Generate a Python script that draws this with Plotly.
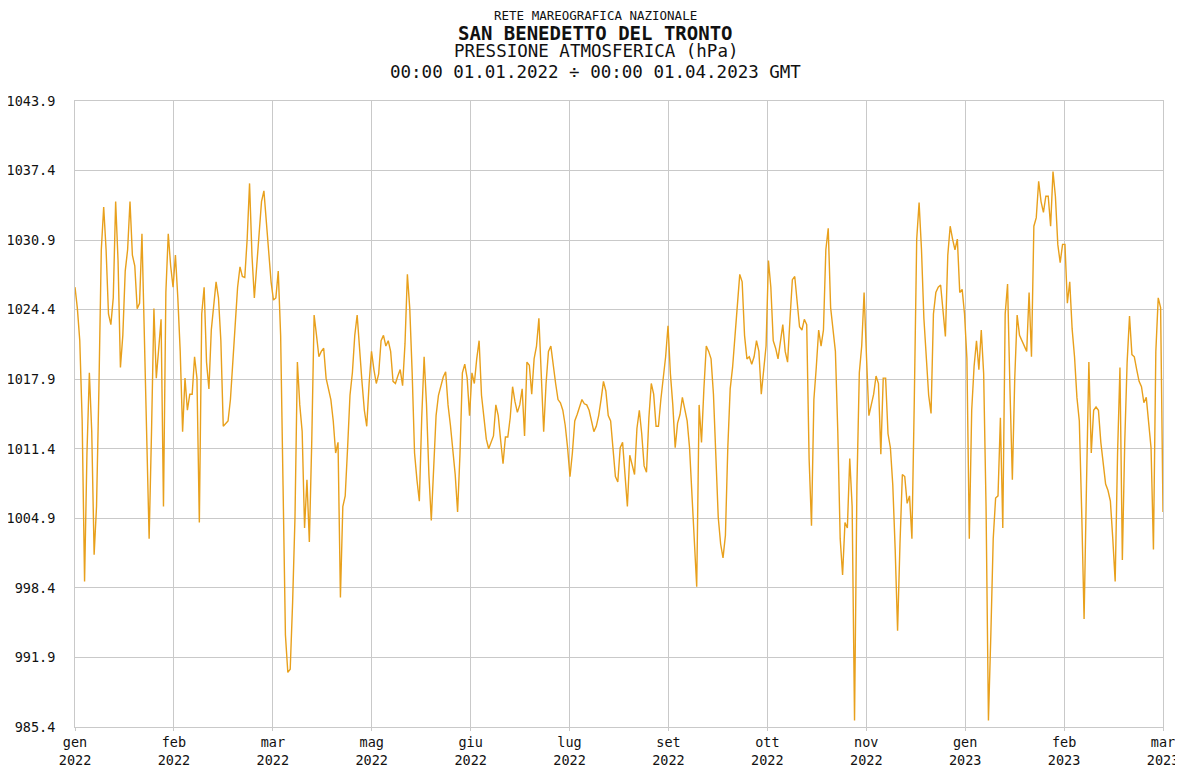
import pandas as pd
import plotly.graph_objects as go

# daily readings (hPa)
jan_2022 = [1026.5, 1024.5, 1021.5, 1014, 999, 1011, 1018.5, 1013, 1001.5, 1006,
            1017, 1030, 1034, 1030, 1024, 1023, 1025.5, 1034.5, 1029, 1019,
            1022, 1028, 1030, 1034.5, 1029.5, 1028.5, 1024.5, 1025, 1031.5, 1022, 1014]
feb_2022 = [1003, 1013, 1024.5, 1018, 1021, 1023.5, 1006, 1026, 1031.5, 1028.5,
            1026.5, 1029.5, 1025.5, 1020.5, 1013, 1018, 1015, 1016.5, 1016.5, 1020,
            1018, 1004.5, 1024, 1026.5, 1019.5, 1017, 1022.5, 1025]
mar_2022 = [1027, 1025.5, 1021.5, 1013.5, 1013.8, 1014, 1016, 1020, 1023, 1026.5,
            1028.4, 1027.5, 1027.4, 1031, 1036.2, 1029.5, 1025.5, 1028.5, 1032, 1034.5,
            1035.5, 1032.5, 1029.5, 1027, 1025.3, 1025.5, 1028, 1022, 1008, 994, 990.5]
apr_2022 = [990.8, 997, 1005, 1019.5, 1015.5, 1013, 1004, 1008.5, 1002.7, 1012,
            1023.9, 1022, 1020, 1020.5, 1020.8, 1018, 1017, 1016, 1014, 1011,
            1012, 997.5, 1006, 1007, 1011.5, 1016.4, 1018.5, 1022, 1023.9, 1020.5]
may_2022 = [1017.7, 1015, 1013.5, 1017.5, 1020.5, 1018.8, 1017.5, 1018.4, 1021.5, 1022,
            1021, 1021.5, 1020.5, 1017.7, 1017.5, 1018.2, 1018.8, 1017.3, 1021.2, 1027.7,
            1024.5, 1018.5, 1011, 1008.5, 1006.5, 1014.3, 1020, 1015.5, 1009, 1004.7, 1009]
jun_2022 = [1014.5, 1016.4, 1017.3, 1018.1, 1018.6, 1015.5, 1013.6, 1011, 1009, 1005.5,
            1010.9, 1018.5, 1019.3, 1018, 1014.5, 1018.5, 1017.5, 1019.8, 1021.5, 1016.4,
            1014, 1012.3, 1011.4, 1012, 1012.6, 1015.5, 1014.5, 1012.2, 1010, 1012.5]
jul_2022 = [1012.5, 1014.3, 1017.2, 1015.8, 1014.8, 1015.5, 1017, 1012.6, 1019.5, 1019.2,
            1016.5, 1019.8, 1021, 1023.6, 1018.5, 1013, 1017.5, 1020.5, 1021, 1019,
            1017.5, 1016, 1015.7, 1015, 1013.6, 1011.5, 1008.8, 1011, 1014, 1014.6, 1015.4]
aug_2022 = [1016, 1015.6, 1015.5, 1015, 1014, 1013, 1013.5, 1014.5, 1016, 1017.7,
            1016.8, 1014.5, 1014, 1011.3, 1008.8, 1008.3, 1011.5, 1012, 1008.8, 1006,
            1010.8, 1009.8, 1009, 1013.3, 1015, 1012.8, 1009.8, 1009.2, 1014.3, 1017.5, 1016.5]
sep_2022 = [1013.5, 1013.5, 1016, 1018.2, 1020, 1022.9, 1018.4, 1015.5, 1011.5, 1013.8,
            1014.6, 1016.2, 1015.2, 1014, 1011.5, 1007.4, 1003, 998.5, 1015.5, 1012,
            1017, 1021, 1020.5, 1019.8, 1016.5, 1011, 1005, 1002.5, 1001.2, 1003.3]
oct_2022 = [1011.5, 1017, 1019, 1021.9, 1024.6, 1027.7, 1027, 1022, 1019.8, 1020,
            1019.3, 1020, 1021.5, 1020.5, 1016.5, 1018.5, 1021, 1029, 1026.5, 1021.5,
            1020.8, 1019.8, 1021.5, 1023, 1020.5, 1019.5, 1023.5, 1027.2, 1027.5, 1025.3, 1022.8]
nov_2022 = [1022.5, 1023.5, 1023, 1010.5, 1004.2, 1016, 1019, 1022.5, 1021, 1022.5,
            1030, 1032, 1024.6, 1022.5, 1020.5, 1013, 1003, 999.6, 1004.5, 1004,
            1010.5, 1006, 986, 1008, 1018.5, 1021, 1026, 1020, 1014.5, 1015.5]
dec_2022 = [1016.5, 1018.2, 1017.5, 1010.9, 1018, 1018, 1012.8, 1011.5, 1008, 1002,
            994.4, 1002.5, 1009, 1008.8, 1006.3, 1007, 1003, 1016, 1031, 1034.4,
            1030, 1023.6, 1019.8, 1016.4, 1014.7, 1024, 1026, 1026.5, 1026.7, 1024.3, 1021.9]
jan_2023 = [1029.5, 1032.2, 1031, 1030, 1031, 1026, 1026.3, 1024, 1019.8, 1003,
            1015, 1019.1, 1021.5, 1018.8, 1022.5, 1018.4, 1006, 986, 994, 1003,
            1006.8, 1007, 1014.3, 1004, 1024, 1026.8, 1017, 1008.5, 1018, 1023.9, 1022]
feb_2023 = [1021.5, 1021, 1020.5, 1026, 1020, 1032.2, 1033, 1036.4, 1034.5, 1033.5,
            1035, 1035, 1032.2, 1037.3, 1035, 1030.5, 1028.8, 1030.5, 1030.5, 1025,
            1027, 1022.6, 1020, 1016.2, 1014, 1005.5, 995.5, 1008]
mar_2023 = [1019.5, 1011, 1015, 1015.3, 1015, 1012, 1010, 1008.1, 1007.5, 1006.5,
            1003, 999, 1011, 1019, 1001, 1012, 1019.5, 1023.8, 1020.2, 1020,
            1018.8, 1017.7, 1017.2, 1015.7, 1016.2, 1014, 1011.5, 1002, 1020.5, 1025.5, 1024.6]
apr_2023 = [1005.5]

pressure = (jan_2022 + feb_2022 + mar_2022 + apr_2022 + may_2022 + jun_2022 + jul_2022
            + aug_2022 + sep_2022 + oct_2022 + nov_2022 + dec_2022 + jan_2023 + feb_2023
            + mar_2023 + apr_2023)
dates = pd.date_range("2022-01-01", periods=len(pressure), freq="D")

y_ticks = [985.4, 991.9, 998.4, 1004.9, 1011.4, 1017.9, 1024.4, 1030.9, 1037.4, 1043.9]
x_labels = ["gen<br>2022", "feb<br>2022", "mar<br>2022", "mag<br>2022", "giu<br>2022",
            "lug<br>2022", "set<br>2022", "ott<br>2022", "nov<br>2022", "gen<br>2023",
            "feb<br>2023", "mar<br>2023"]

start = pd.Timestamp("2022-01-01")
end = pd.Timestamp("2023-04-01")
step = (end - start) / (len(x_labels) - 1)
x_ticks = [start + i * step for i in range(len(x_labels))]

FONT = "DejaVu Sans Mono"
GRID = "#c9c9c9"

fig = go.Figure()
fig.add_trace(go.Scatter(
    x=dates, y=pressure, mode="lines",
    line=dict(color="#e8a01c", width=1.4),
    hoverinfo="skip", showlegend=False,
))

# title lines: text, centre y in page px, font size, bold
titles = [
    ("RETE MAREOGRAFICA NAZIONALE", 15.5, 12.5, False),
    ("SAN BENEDETTO DEL TRONTO", 32.5, 19, True),
    ("PRESSIONE ATMOSFERICA (hPa)", 51, 17.5, False),
    ("00:00 01.01.2022 \u00f7 00:00 01.04.2023 GMT", 72, 17.5, False),
]
for text, ypx, size, bold in titles:
    fig.add_annotation(
        text=f"<b>{text}</b>" if bold else text,
        xref="paper", yref="paper", x=0.4785, y=(727 - ypx) / 626,
        xanchor="center", yanchor="middle", showarrow=False,
        font=dict(family=FONT, size=size, color="#111"),
    )

# page body has an 8px margin, so the figure is shrunk and margins offset
fig.update_layout(
    width=1175, height=761,
    margin=dict(l=67, r=20, t=93, b=42),
    paper_bgcolor="white", plot_bgcolor="white",
    font=dict(family=FONT, size=13.5, color="#111"),
)
fig.update_xaxes(
    range=[start, end], tickmode="array", tickvals=x_ticks, ticktext=x_labels,
    showgrid=True, gridcolor=GRID, gridwidth=1,
    showline=True, linecolor=GRID, mirror=True,
    ticks="outside", ticklen=3, tickcolor=GRID,
    tickfont=dict(family=FONT, size=13.5), zeroline=False, automargin=False,
)
fig.update_yaxes(
    range=[985.4, 1043.9], tickmode="array", tickvals=y_ticks,
    ticktext=[f"{v:.1f}" for v in y_ticks],
    showgrid=True, gridcolor=GRID, gridwidth=1,
    showline=True, linecolor=GRID, mirror=True,
    ticks="", ticklabelstandoff=16,
    tickfont=dict(family=FONT, size=13.5), zeroline=False, automargin=False,
)

fig.write_html("out.html")
